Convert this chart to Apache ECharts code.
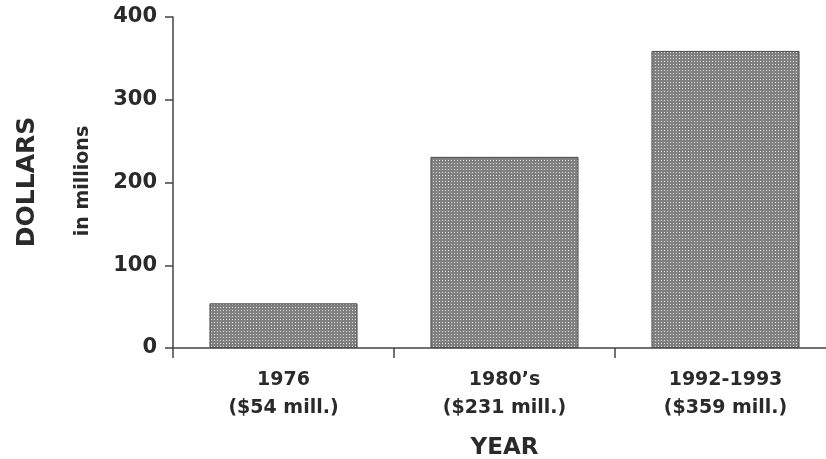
<!DOCTYPE html>
<html>
<head>
<meta charset="utf-8">
<script src="https://cdn.jsdelivr.net/npm/echarts@6/dist/echarts.min.js"></script>
<style>
  html, body { margin: 0; padding: 0; background: #fff; }
  #chart { width: 826px; height: 459px; }
</style>
</head>
<body>
<div id="chart"></div>
<script>
// Spending by period, in millions of dollars
const categories = ['1976\n($54 mill.)', '1980\u2019s\n($231 mill.)', '1992-1993\n($359 mill.)'];
const dollars = [54, 231, 359];
const yTicks = [0, 100, 200, 300, 400];

// Stippled gray fill: small tile with a light dot on a mid-gray ground
function stipple() {
  const c = document.createElement('canvas');
  c.width = 3; c.height = 3;
  const g = c.getContext('2d');
  g.fillStyle = '#808080';
  g.fillRect(0, 0, 3, 3);
  g.fillStyle = '#dcdcdc';
  g.fillRect(1, 1, 1, 1);
  return c;
}

const ink = '#2a2a2a';
const font = '"DejaVu Sans", Verdana, sans-serif';

const chart = echarts.init(document.getElementById('chart'), null, { renderer: 'canvas' });
chart.setOption({
  animation: false,
  backgroundColor: '#ffffff',
  grid: {
    left: 173, width: 663, top: 17, height: 331,
    containLabel: false, outerBoundsMode: 'none'
  },
  xAxis: {
    type: 'category',
    data: categories,
    boundaryGap: true,
    axisLine: { lineStyle: { color: '#444', width: 1.5 } },
    axisTick: { show: true, length: 10, lineStyle: { color: '#444', width: 1.5 } },
    axisLabel: {
      color: ink, fontFamily: font, fontWeight: 'bold', fontSize: 19,
      lineHeight: 28, margin: 18
    },
    name: 'YEAR',
    nameLocation: 'middle',
    nameGap: 89,
    nameTextStyle: { color: ink, fontFamily: font, fontWeight: 'bold', fontSize: 23 }
  },
  yAxis: {
    type: 'value',
    min: yTicks[0],
    max: yTicks[yTicks.length - 1],
    interval: yTicks[1] - yTicks[0],
    splitLine: { show: false },
    axisLine: { show: true, lineStyle: { color: '#444', width: 1.5 } },
    axisTick: { show: true, length: 8, lineStyle: { color: '#444', width: 1.5 } },
    axisLabel: {
      color: ink, fontFamily: font, fontWeight: 'bold', fontSize: 21, margin: 16,
      padding: [4, 0, 0, 0]
    }
  },
  series: [{
    type: 'bar',
    data: dollars,
    barWidth: '67%',
    itemStyle: {
      color: { image: stipple(), repeat: 'repeat' },
      borderColor: '#4a4a4a',
      borderWidth: 1
    }
  }],
  graphic: [
    {
      type: 'text',
      style: { text: 'DOLLARS', fill: ink, font: 'bold 25px ' + font, textAlign: 'center', textVerticalAlign: 'middle' },
      position: [27, 182], rotation: Math.PI / 2
    },
    {
      type: 'text',
      style: { text: 'in millions', fill: ink, font: 'bold 19px ' + font, textAlign: 'center', textVerticalAlign: 'middle' },
      position: [83, 181], rotation: Math.PI / 2
    }
  ]
});
</script>
</body>
</html>
